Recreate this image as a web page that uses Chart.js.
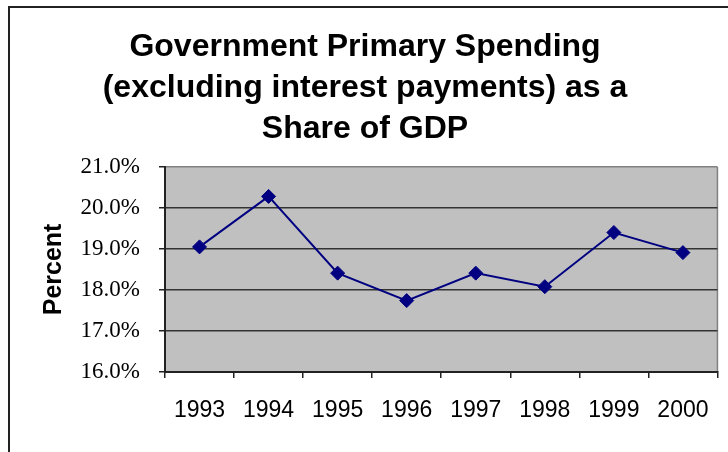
<!DOCTYPE html>
<html>
<head>
<meta charset="utf-8">
<script src="https://cdn.jsdelivr.net/npm/chart.js@4/dist/chart.umd.min.js"></script>
<style>
    html, body { margin: 0; padding: 0; background: #fff; }
    #wrap { width: 728px; height: 452px; position: relative; }
</style>
</head>
<body>
<div id="wrap"><canvas id="spendingChart" width="728" height="452"></canvas></div>
<script>
// data
const years = ['1993', '1994', '1995', '1996', '1997', '1998', '1999', '2000'];
const primarySpending = [19.05, 20.28, 18.41, 17.74, 18.41, 18.08, 19.40, 18.91];
const yTicks = [16, 17, 18, 19, 20, 21];

// grey plot area, right edge and outer frame
const framePlugin = {
    id: 'frame',
    beforeDraw(chart) {
        const ctx = chart.ctx;
        const a = chart.chartArea;
        ctx.save();
        ctx.fillStyle = '#ffffff';
        ctx.fillRect(0, 0, chart.width, chart.height);
        ctx.fillStyle = '#c0c0c0';
        ctx.fillRect(a.left, a.top, a.right - a.left, a.bottom - a.top);
        ctx.strokeStyle = '#808080';
        ctx.lineWidth = 1.5;
        ctx.beginPath();
        ctx.moveTo(a.right, a.top);
        ctx.lineTo(a.right, a.bottom);
        ctx.stroke();
        // outer border (left and top only are visible)
        ctx.strokeStyle = '#222';
        ctx.lineWidth = 2;
        ctx.beginPath();
        ctx.moveTo(9, chart.height);
        ctx.lineTo(9, 7);
        ctx.lineTo(chart.width, 7);
        ctx.stroke();
        ctx.restore();
    }
};

const ctx = document.getElementById('spendingChart').getContext('2d');
const spendingChart = new Chart(ctx, {
    type: 'line',
    data: {
        labels: years,
        datasets: [{
            label: 'Primary spending',
            data: primarySpending,
            borderColor: '#000080',
            backgroundColor: '#000080',
            borderWidth: 2,
            pointStyle: 'rectRot',
            pointRadius: 7,
            pointBorderWidth: 1,
            tension: 0,
            clip: false
        }]
    },
    options: {
        responsive: false,
        animation: false,
        layout: { padding: { left: 10, right: 8, top: 0, bottom: 0 } },
        plugins: {
            legend: { display: false },
            tooltip: { enabled: false },
            title: {
                display: true,
                text: ['Government Primary Spending', '(excluding interest payments) as a', 'Share of GDP'],
                color: '#000',
                font: { family: '"Liberation Sans", Arial, sans-serif', size: 32, weight: 'bold', lineHeight: 1.28 },
                padding: { top: 27, bottom: 17 }
            }
        },
        scales: {
            x: {
                offset: true,
                grid: {
                    offset: true,
                    drawOnChartArea: false,
                    drawTicks: true,
                    tickLength: 6,
                    color: '#222',
                    lineWidth: 1.5
                },
                border: { color: '#222', width: 2 },
                ticks: {
                    color: '#000',
                    padding: 19,
                    maxRotation: 0,
                    font: { family: '"Liberation Sans", Arial, sans-serif', size: 23 }
                },
                afterFit(scale) { scale.height = 80; }
            },
            y: {
                min: yTicks[0],
                max: yTicks[yTicks.length - 1],
                afterBuildTicks(scale) {
                    scale.ticks = yTicks.map(v => ({ value: v }));
                },
                grid: {
                    color: c => (c.tick && c.tick.value === 21 ? '#808080' : '#333'),
                    tickColor: '#222',
                    lineWidth: 1.5,
                    tickLength: 6
                },
                border: { color: '#222', width: 2 },
                ticks: {
                    color: '#000',
                    padding: 19,
                    font: { family: '"Liberation Serif", "Times New Roman", serif', size: 23 },
                    callback: v => v.toFixed(1) + '%'
                },
                title: {
                    display: true,
                    text: 'Percent',
                    color: '#000',
                    font: { family: '"Liberation Sans", Arial, sans-serif', size: 25, weight: 'bold', lineHeight: 1.2 },
                    padding: { top: 29, bottom: 0 }
                },
                afterFit(scale) { scale.width = 155; }
            }
        }
    },
    plugins: [framePlugin]
});
</script>
</body>
</html>
